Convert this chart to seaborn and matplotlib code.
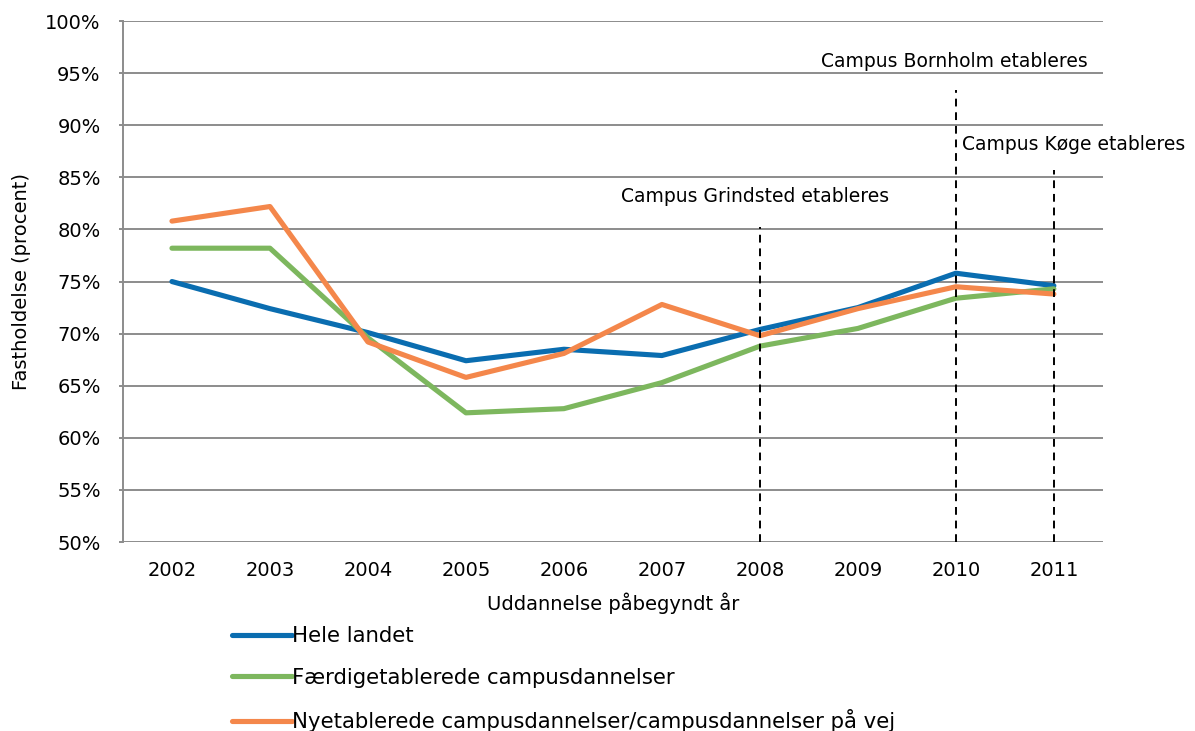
import pandas as pd
import numpy as np
import seaborn as sns
import matplotlib.pyplot as plt
from matplotlib.ticker import FuncFormatter

# data
years = [2002, 2003, 2004, 2005, 2006, 2007, 2008, 2009, 2010, 2011]
hele_landet = [75.0, 72.4, 70.1, 67.4, 68.5, 67.9, 70.4, 72.5, 75.8, 74.6]
faerdig = [78.2, 78.2, 69.6, 62.4, 62.8, 65.3, 68.8, 70.5, 73.4, 74.3]
nyetabl = [80.8, 82.2, 69.2, 65.8, 68.1, 72.8, 69.8, 72.4, 74.5, 73.8]

series_names = [
    "Hele landet",
    "Færdigetablerede campusdannelser",
    "Nyetablerede campusdannelser/campusdannelser på vej",
]
colors = ["#0A6DB0", "#7DB75E", "#F4874B"]

# campus events: year, top of dashed line (%), label
event_years = [2008, 2010, 2011]
event_tops = [80.2, 93.4, 85.7]
event_labels = ["Campus Grindsted etableres", "Campus Bornholm etableres", "Campus Køge etableres"]

df = pd.DataFrame({
    "Year": [str(y) for y in years] * 3,
    "Value": hele_landet + faerdig + nyetabl,
    "Serie": [n for n in series_names for _ in years],
})

sns.set_style("white")
plt.rcParams["font.family"] = ["DejaVu Sans"]
plt.rcParams["text.color"] = "black"
plt.rcParams["axes.labelcolor"] = "black"
plt.rcParams["xtick.color"] = "black"
plt.rcParams["ytick.color"] = "black"

fig = plt.figure(figsize=(11.95, 7.31), dpi=100)
ax = fig.add_axes([0.1029, 0.2585, 0.8200, 0.7127])

sns.lineplot(data=df, x="Year", y="Value", hue="Serie", palette=colors,
             linewidth=3.7, sort=False, ax=ax, legend=True)

ax.set_xlim(-0.5, 9.5)
ax.set_ylim(50, 100)
ax.set_yticks(np.arange(50, 101, 5))
ax.yaxis.set_major_formatter(FuncFormatter(lambda v, p: f"{int(v)}%"))
ax.grid(axis="y", color="#8c8c8c", linewidth=1.4)
ax.grid(axis="x", visible=False)
ax.set_axisbelow(True)
for side in ["top", "right", "bottom"]:
    ax.spines[side].set_visible(False)
ax.spines["left"].set_color("#8c8c8c")
ax.spines["left"].set_linewidth(1.4)
ax.tick_params(axis="y", length=3, color="#8c8c8c", width=1.4, labelsize=14, pad=13, left=True)
ax.tick_params(axis="x", length=0, labelsize=14, pad=14)

ax.set_xlabel("Uddannelse påbegyndt år", fontsize=14, labelpad=9)
ax.set_ylabel("Fastholdelse (procent)", fontsize=14, labelpad=10)

# dashed event lines and labels
for yr, top in zip(event_years, event_tops):
    xi = years.index(yr)
    ax.plot([xi, xi], [50, top], color="black", linestyle=(0, (4, 3)), linewidth=1.4, zorder=5)

ax.text(years.index(2008) - 0.05, 83.2, event_labels[0], fontsize=13.5, ha="center", va="center")
ax.text(years.index(2011) + 0.35, 96.1, event_labels[1], fontsize=13.5, ha="right", va="center")
ax.text(years.index(2010) + 0.06, 88.2, event_labels[2], fontsize=13.5, ha="left", va="center")

handles, labels = ax.get_legend_handles_labels()
ax.get_legend().remove()
fig.legend(handles, labels, loc="upper left", bbox_to_anchor=(0.194, 0.1437),
           frameon=False, fontsize=15.3, handlelength=2.85, handletextpad=0.0,
           labelspacing=1.02, borderaxespad=0, borderpad=0)

fig.savefig("out.png", dpi=100)
